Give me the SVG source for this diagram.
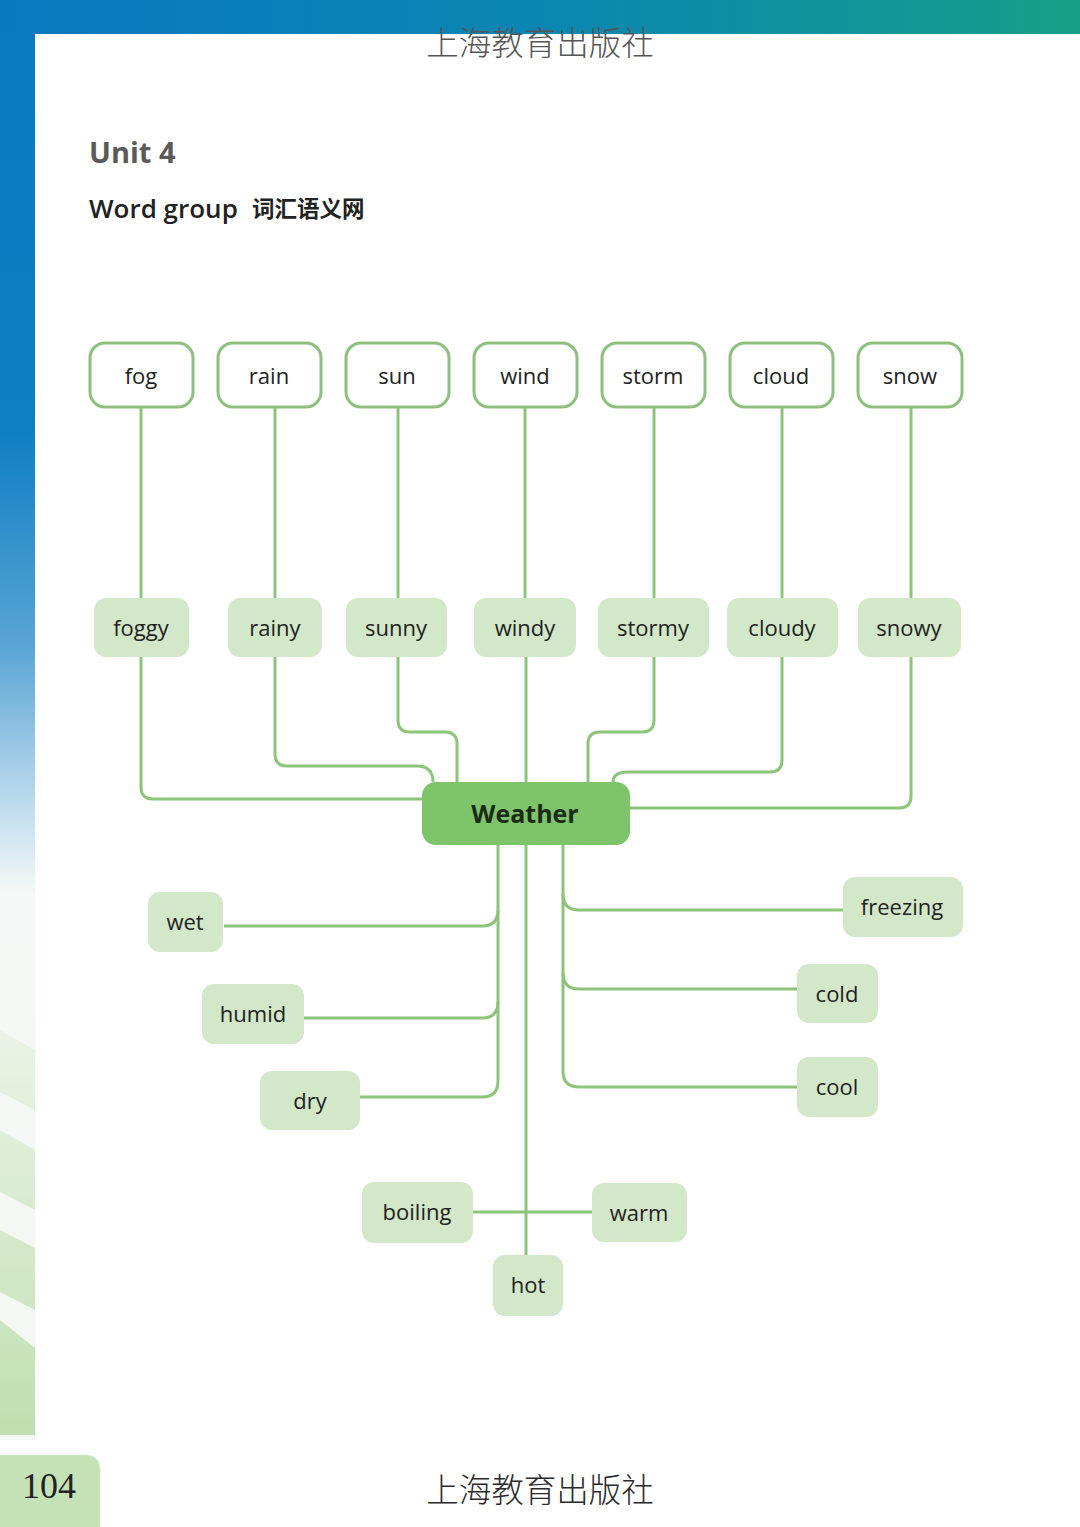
<svg xmlns="http://www.w3.org/2000/svg" width="1080" height="1527" viewBox="0 0 1080 1527">
<defs>
<linearGradient id="topband" x1="0" y1="0" x2="1" y2="0">
<stop offset="0" stop-color="#0a78c0"/>
<stop offset="0.5" stop-color="#0b86b2"/>
<stop offset="1" stop-color="#189e88"/>
</linearGradient>
<linearGradient id="leftband" x1="0" y1="0" x2="0" y2="1">
<stop offset="0" stop-color="#0a78c0"/>
<stop offset="0.3" stop-color="#0f7fc3"/>
<stop offset="0.45" stop-color="#5aa5d5"/>
<stop offset="0.55" stop-color="#b6d7ec"/>
<stop offset="0.62" stop-color="#f4f8f6"/>
<stop offset="1" stop-color="#f4f8f2"/>
</linearGradient>
<linearGradient id="stripes" x1="0" y1="1000" x2="0" y2="1435" gradientUnits="userSpaceOnUse">
<stop offset="0" stop-color="#eef5ea"/>
<stop offset="1" stop-color="#bfdfb0"/>
</linearGradient>
<style>
.top rect{fill:#ffffff;stroke:#8dc07c;stroke-width:3}
.mid rect{fill:#d3e8c8}
.lbl{font-family:"Open Sans","Noto Sans",sans-serif;font-size:22px;fill:#222;text-anchor:middle}
.conn path{fill:none;stroke:#8cc47a;stroke-width:3}
</style>
</defs>
<rect x="0" y="0" width="1080" height="1527" fill="#ffffff"/>
<rect x="0" y="0" width="35" height="1440" fill="url(#leftband)"/>
<rect x="0" y="0" width="1080" height="34" fill="url(#topband)"/>
<g fill="url(#stripes)">
<polygon points="0,1030 35,1050 35,1110 0,1092"/>
<polygon points="0,1130 35,1150 35,1210 0,1192"/>
<polygon points="0,1230 35,1248 35,1310 0,1292"/>
<polygon points="0,1320 35,1348 35,1435 0,1435"/>
</g>
<path d="M0,1455 H85 Q100,1455 100,1470 V1527 H0 Z" fill="#c5e2b6"/>
<text x="49" y="1498" font-family="Liberation Serif, serif" font-size="36" fill="#222" text-anchor="middle">104</text>
<text x="540" y="55" font-family="Noto Sans CJK SC, sans-serif" font-size="32.5" font-weight="300" fill="#555" text-anchor="middle">上海教育出版社</text>
<text x="540" y="1502" font-family="Noto Sans CJK SC, sans-serif" font-size="32.5" font-weight="300" fill="#2a2a2a" text-anchor="middle">上海教育出版社</text>
<text x="89" y="163" font-family="Open Sans, sans-serif" font-size="29" font-weight="bold" fill="#5a5a5a">Unit 4</text>
<text x="89" y="218" font-family="Open Sans, sans-serif" font-size="26" font-weight="600" fill="#222">Word group</text>
<text x="252" y="217" font-family="Noto Sans CJK SC, sans-serif" font-size="22.5" font-weight="bold" fill="#222">词汇语义网</text>

<g class="conn" id="connectors">
<path d="M141,407 V598"/>
<path d="M275,407 V598"/>
<path d="M398,407 V598"/>
<path d="M525,407 V598"/>
<path d="M654,407 V598"/>
<path d="M782,407 V598"/>
<path d="M911,407 V598"/>
<path d="M141,657 V787 Q141,799 153,799 H424"/>
<path d="M275,657 V754 Q275,766 287,766 H417 Q433,766 433,782"/>
<path d="M398,657 V720 Q398,732 410,732 H445 Q457,732 457,744 V782"/>
<path d="M526,657 V782"/>
<path d="M654,657 V720 Q654,732 642,732 H600 Q588,732 588,744 V782"/>
<path d="M782,657 V760 Q782,772 770,772 H628 Q613,772 613,782"/>
<path d="M911,657 V796 Q911,808 899,808 H630"/>
<path d="M498,845 V1081 Q498,1097 482,1097 H360"/>
<path d="M498,910 Q498,926 482,926 H224"/>
<path d="M498,1002 Q498,1018 482,1018 H304"/>
<path d="M526,845 V1255"/>
<path d="M563,845 V1071 Q563,1087 579,1087 H797"/>
<path d="M563,894 Q563,910 579,910 H843"/>
<path d="M563,973 Q563,989 579,989 H797"/>
<path d="M473,1212 H592"/>
</g>

<g class="top">
<g id="n-fog"><rect x="90" y="343" width="103" height="64" rx="15"/><text class="lbl" x="141" y="384">fog</text></g>
<g id="n-rain"><rect x="218" y="343" width="103" height="64" rx="15"/><text class="lbl" x="269" y="384">rain</text></g>
<g id="n-sun"><rect x="346" y="343" width="103" height="64" rx="15"/><text class="lbl" x="397" y="384">sun</text></g>
<g id="n-wind"><rect x="474" y="343" width="103" height="64" rx="15"/><text class="lbl" x="525" y="384">wind</text></g>
<g id="n-storm"><rect x="602" y="343" width="103" height="64" rx="15"/><text class="lbl" x="653" y="384">storm</text></g>
<g id="n-cloud"><rect x="730" y="343" width="103" height="64" rx="15"/><text class="lbl" x="781" y="384">cloud</text></g>
<g id="n-snow"><rect x="858" y="343" width="104" height="64" rx="15"/><text class="lbl" x="910" y="384">snow</text></g>
</g>

<g class="mid">
<g id="n-foggy"><rect x="94" y="598" width="95" height="59" rx="12"/><text class="lbl" x="141" y="636">foggy</text></g>
<g id="n-rainy"><rect x="228" y="598" width="94" height="59" rx="12"/><text class="lbl" x="275" y="636">rainy</text></g>
<g id="n-sunny"><rect x="346" y="598" width="101" height="59" rx="12"/><text class="lbl" x="396" y="636">sunny</text></g>
<g id="n-windy"><rect x="474" y="598" width="102" height="59" rx="12"/><text class="lbl" x="525" y="636">windy</text></g>
<g id="n-stormy"><rect x="598" y="598" width="111" height="59" rx="12"/><text class="lbl" x="653" y="636">stormy</text></g>
<g id="n-cloudy"><rect x="727" y="598" width="111" height="59" rx="12"/><text class="lbl" x="782" y="636">cloudy</text></g>
<g id="n-snowy"><rect x="858" y="598" width="103" height="59" rx="12"/><text class="lbl" x="909" y="636">snowy</text></g>

<g id="n-wet"><rect x="148" y="892" width="75" height="60" rx="12"/><text class="lbl" x="185" y="930">wet</text></g>
<g id="n-humid"><rect x="202" y="984" width="102" height="60" rx="12"/><text class="lbl" x="253" y="1022">humid</text></g>
<g id="n-dry"><rect x="260" y="1071" width="100" height="59" rx="12"/><text class="lbl" x="310" y="1109">dry</text></g>
<g id="n-freezing"><rect x="843" y="877" width="120" height="60" rx="12"/><text class="lbl" x="902" y="915">freezing</text></g>
<g id="n-cold"><rect x="797" y="964" width="81" height="59" rx="12"/><text class="lbl" x="837" y="1002">cold</text></g>
<g id="n-cool"><rect x="797" y="1057" width="81" height="60" rx="12"/><text class="lbl" x="837" y="1095">cool</text></g>
<g id="n-boiling"><rect x="362" y="1182" width="111" height="61" rx="12"/><text class="lbl" x="417" y="1220">boiling</text></g>
<g id="n-warm"><rect x="592" y="1183" width="95" height="59" rx="12"/><text class="lbl" x="639" y="1221">warm</text></g>
<g id="n-hot"><rect x="493" y="1255" width="70" height="61" rx="12"/><text class="lbl" x="528" y="1293">hot</text></g>
</g>

<g id="n-weather">
<rect x="422" y="782" width="208" height="63" rx="14" fill="#7dc46a"/>
<text x="525" y="823" font-family="Open Sans, sans-serif" font-size="25" font-weight="bold" fill="#1c2a18" text-anchor="middle">Weather</text>
</g>
</svg>
